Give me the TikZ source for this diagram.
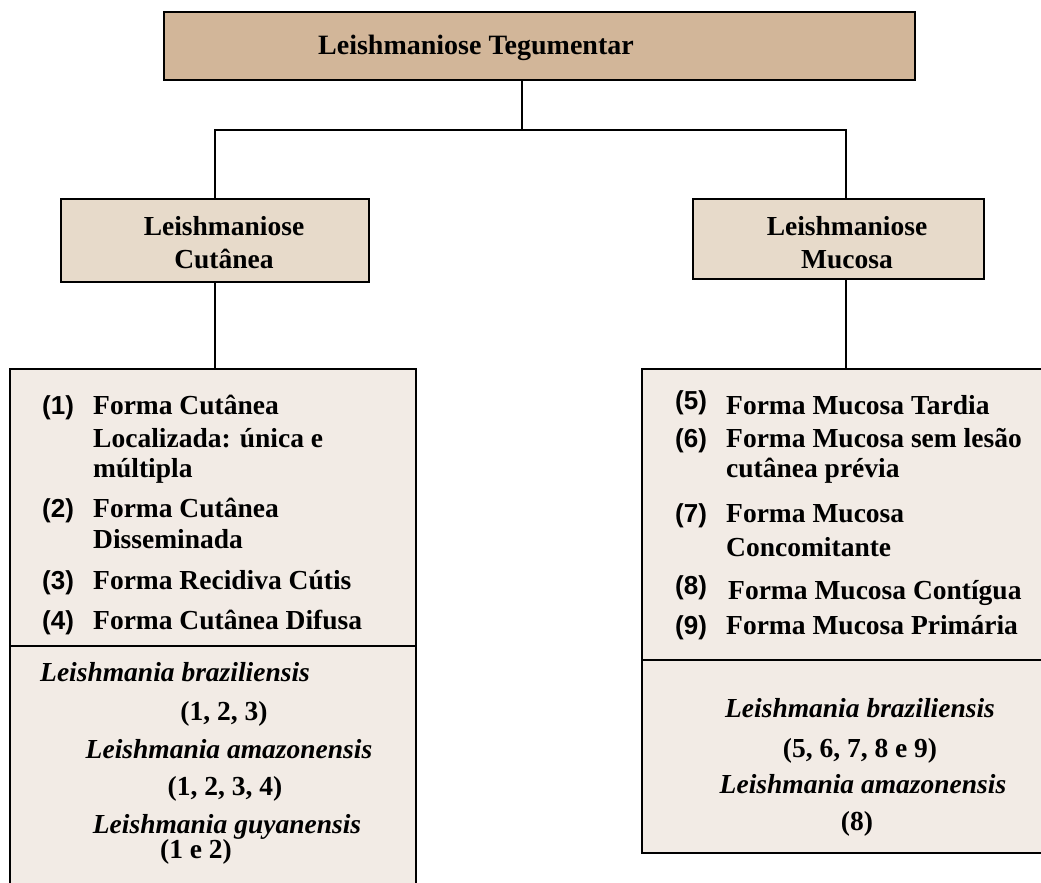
\documentclass[tikz,border=0pt]{standalone}
\usepackage{fontspec}
\setmainfont{Liberation Serif}
\newfontfamily\numsans{Liberation Sans}
\definecolor{tanfill}{HTML}{D2B699}
\definecolor{midfill}{HTML}{E7DACA}
\definecolor{lightfill}{HTML}{F2EBE5}
\begin{document}
\begin{tikzpicture}[x=1pt,y=-1pt,
  box/.style={draw=black, line width=1.8pt, rectangle, inner sep=0pt, anchor=north west},
  conn/.style={draw=black, line width=1.6pt},
  txt/.style={inner sep=0pt, anchor=base west, font=\fontsize{27.5}{31}\selectfont\bfseries},
  ctxt/.style={txt, anchor=base},
  itxt/.style={txt, font=\fontsize{27.5}{31}\selectfont\bfseries\itshape},
  citxt/.style={itxt, anchor=base},
  num/.style={inner sep=0pt, anchor=base west, font=\fontsize{26}{31}\selectfont\bfseries\numsans}
]
\useasboundingbox (0,0) rectangle (1041,883);
\clip (0,0) rectangle (1041,883);

% boxes
\node[box, fill=tanfill, line width=2.4pt, minimum width=751pt, minimum height=68pt] (top) at (163,11) {};
\node[box, fill=midfill, minimum width=308pt, minimum height=83pt] (cl) at (60,198) {};
\node[box, fill=midfill, minimum width=291pt, minimum height=80pt] (cr) at (692,198) {};
\node[box, fill=lightfill, minimum width=406pt, minimum height=540pt] (ll) at (9,368) {};
\node[box, fill=lightfill, minimum width=430pt, minimum height=484pt] (lr) at (641,368) {};

% dividers
\coordinate (dl) at (0,646);
\coordinate (dr) at (0,660);
\draw[conn, line width=1.8pt] (ll.west |- dl) -- (ll.east |- dl);
\draw[conn, line width=1.8pt] (lr.west |- dr) -- (lr.east |- dr);

% connectors
\coordinate (j) at (522,130);
\coordinate (jr) at (846,130);
\draw[conn] (top.south -| j) -- (j);
\draw[conn] (cl.north) |- (jr) -- (cr.north -| jr);
\draw[conn] (cl.south) -- (ll.north -| cl.south);
\draw[conn] (cr.south -| jr) -- (lr.north -| jr);

% titles
\node[inner sep=0pt, anchor=base west, font=\fontsize{28}{32}\selectfont\bfseries] (ttop) at (318,55) {Leishmaniose Tegumentar};
\node[ctxt] (tcl1) at (224,235) {Leishmaniose};
\node[ctxt] (tcl2) at (224,268) {Cutânea};
\node[ctxt] (tcr1) at (847,235) {Leishmaniose};
\node[ctxt] (tcr2) at (847,268) {Mucosa};

% left list
\node[num] (n1) at (42,414) {(1)};
\node[txt] (l1a) at (93,414) {Forma Cutânea};
\node[txt] (l1b) at (93,447) {Localizada: única e};
\node[txt] (l1c) at (93,477) {múltipla};
\node[num] (n2) at (42,517) {(2)};
\node[txt] (l2a) at (93,517) {Forma Cutânea};
\node[txt] (l2b) at (93,548) {Disseminada};
\node[num] (n3) at (42,589) {(3)};
\node[txt] (l3a) at (93,589) {Forma Recidiva Cútis};
\node[num] (n4) at (42,629) {(4)};
\node[txt] (l4a) at (93,629) {Forma Cutânea Difusa};

% left species
\node[itxt] (s1) at (40,681) {Leishmania braziliensis};
\node[ctxt] (s1n) at (224,720) {(1, 2, 3)};
\node[citxt] (s2) at (229,758) {Leishmania amazonensis};
\node[ctxt] (s2n) at (225,795) {(1, 2, 3, 4)};
\node[citxt] (s3) at (227,833) {Leishmania guyanensis};
\node[ctxt] (s3n) at (196,858) {(1 e 2)};

% right list
\node[num] (n5) at (675,409) {(5)};
\node[txt] (r5a) at (726,414) {Forma Mucosa Tardia};
\node[num] (n6) at (675,447) {(6)};
\node[txt] (r6a) at (726,447) {Forma Mucosa sem lesão};
\node[txt] (r6b) at (726,477) {cutânea prévia};
\node[num] (n7) at (675,522) {(7)};
\node[txt] (r7a) at (726,522) {Forma Mucosa};
\node[txt] (r7b) at (726,556) {Concomitante};
\node[num] (n8) at (675,594) {(8)};
\node[txt] (r8a) at (728,599) {Forma Mucosa Contígua};
\node[num] (n9) at (675,634) {(9)};
\node[txt] (r9a) at (726,634) {Forma Mucosa Primária};

% right species
\node[citxt] (t1) at (860,717) {Leishmania braziliensis};
\node[ctxt] (t1n) at (860,757) {(5, 6, 7, 8 e 9)};
\node[citxt] (t2) at (863,793) {Leishmania amazonensis};
\node[ctxt] (t2n) at (857,830) {(8)};
\end{tikzpicture}
\end{document}
